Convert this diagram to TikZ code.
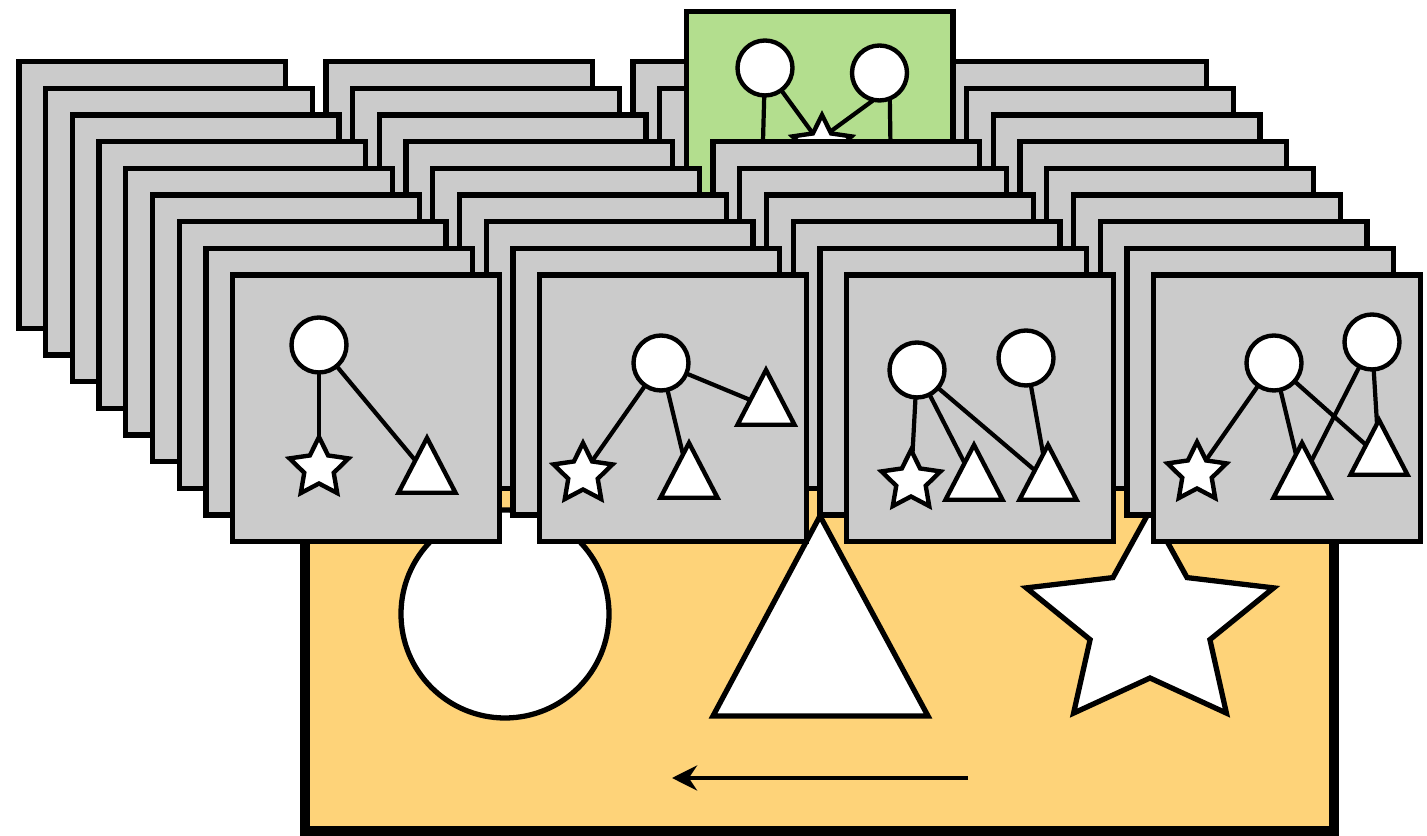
\documentclass[tikz,border=0pt]{standalone}
\usepackage{xcolor}
\usepackage{tikz}
\usetikzlibrary{arrows.meta,shapes.geometric}

\definecolor{cardgray}{RGB}{203,203,203}
\definecolor{liftgreen}{RGB}{179,222,142}
\definecolor{boardyellow}{RGB}{254,211,121}

\begin{document}
\begin{tikzpicture}[
  card/.style={draw, fill=cardgray, line width=3pt, minimum size=5.334cm,
    inner sep=0pt, outer sep=0pt, anchor=north west},
  dot/.style={circle, draw, fill=white, line width=2.5pt, minimum size=1.1cm,
    inner sep=0pt, outer sep=0pt},
  pstar/.style={star, star points=5, star point ratio=2, draw, fill=white,
    line width=2.5pt, minimum size=1.24cm, inner sep=0pt, outer sep=0pt},
  tri/.style={regular polygon, regular polygon sides=3, draw, fill=white,
    line width=2.5pt, minimum size=1.317cm, inner sep=0pt, outer sep=0pt,
    yscale=1.11, transform shape},
  link/.style={line width=2.4pt},
  board/.style={draw, fill=boardyellow, line width=5.8pt},
  bigshape/.style={draw, fill=white, line width=3pt},
  flow/.style={-{Stealth[length=5mm, width=5mm]}, line width=2.6pt},
]
\useasboundingbox (0,0) rectangle (28.54,16.72);
% yellow board
\draw[board] (6.10,0.09) rectangle (26.68,7.92);
\node[dot, line width=3pt, minimum size=4.16cm] (bigcircle) at (10.10,4.44) {};
\draw[bigshape] (16.40,6.40) -- (18.56,2.40) -- (14.26,2.40) -- cycle;
\draw[bigshape] (23.00,4.27) +(90:2.6 and 2.24)
  \foreach \a in {0,...,4}{ -- +({126+72*\a}:1.26 and 1.11) -- +({162+72*\a}:2.6 and 2.24) } -- cycle;
\coordinate (arrtail) at (19.36,1.16);
\coordinate (arrhead) at (13.44,1.16);
\draw[flow] (arrtail) -- (arrhead);
% stacks, back layers
\foreach \k in {0,1}{
  \foreach \c in {0,...,3}{
    \node[card] (card-\c-\k) at ({0.38+6.14*\c+0.534*\k},{15.49-0.534*\k}) {};
  }
}
\foreach \c in {0,1,3}{
  \node[card] (card-\c-2) at ({0.38+6.14*\c+1.068},{15.49-1.068}) {};
}
% lifted card
\node[card, fill=liftgreen] (card-2-2) at (13.728,16.486) {};
\node[dot] (g1) at (15.30,15.36) {};
\node[dot] (g2) at (17.59,15.26) {};
\node[pstar] (gs) at (16.44,13.80) {};
\coordinate (gend1) at (15.20,11.72);
\coordinate (gend2) at (17.84,11.72);
\draw[link] (g1) -- (gend1);
\draw[link] (g2.-68) -- (gend2);
\draw[link] (g1) -- (gs);
\draw[link] (g2.-102) -- (gs.60);
% stacks, front layers
\foreach \k in {3,...,8}{
  \foreach \c in {0,...,3}{
    \node[card] (card-\c-\k) at ({0.38+6.14*\c+0.534*\k},{15.49-0.534*\k}) {};
  }
}
% first card
\node[dot] (c1a) at (6.38,9.82) {};
\node[pstar] (s1) at (6.38,7.36) {};
\node[tri] (t1a) at (8.54,7.23) {};
\draw[link] (c1a) -- (s1);
\draw[link] (c1a) -- (t1a);
% second card
\node[dot] (c2a) at (13.22,9.46) {};
\node[pstar] (s2) at (11.66,7.24) {};
\node[tri] (t2a) at (15.32,8.59) {};
\node[tri] (t2b) at (13.78,7.13) {};
\draw[link] (c2a) -- (s2);
\draw[link] (c2a) -- (t2a);
\draw[link] (c2a) -- (t2b);
% third card
\node[dot] (c3a) at (18.34,9.32) {};
\node[dot] (c3b) at (20.52,9.56) {};
\node[pstar] (s3) at (18.22,7.10) {};
\node[tri] (t3a) at (19.48,7.09) {};
\node[tri] (t3b) at (20.96,7.09) {};
\draw[link] (c3a) -- (s3);
\draw[link] (c3a) -- (t3a);
\draw[link] (c3a) -- (t3b);
\draw[link] (c3b) -- (t3b);
% fourth card
\node[dot] (c4a) at (25.48,9.46) {};
\node[dot] (c4b) at (27.44,9.88) {};
\node[pstar] (s4) at (23.94,7.26) {};
\node[tri] (t4a) at (26.04,7.13) {};
\node[tri] (t4b) at (27.58,7.59) {};
\draw[link] (c4a) -- (s4);
\draw[link] (c4a) -- (t4a);
\draw[link] (c4a) -- (t4b);
\draw[link] (c4b) -- (t4a);
\draw[link] (c4b) -- (t4b);
\end{tikzpicture}
\end{document}
